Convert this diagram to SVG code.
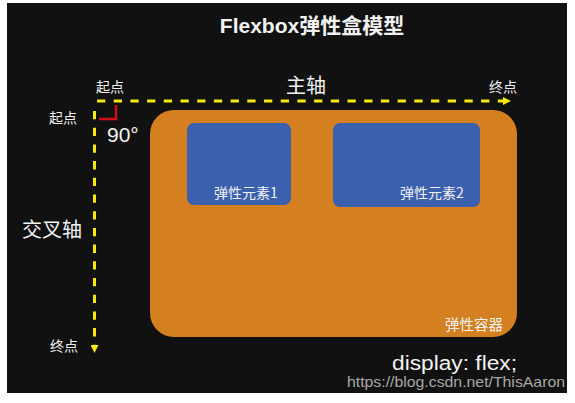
<svg xmlns="http://www.w3.org/2000/svg" width="575" height="403" viewBox="0 0 575 403">
<style>
.t{font-family:"Noto Sans CJK SC","Liberation Sans",sans-serif;fill:#f2f2f2}
.l{font-family:"Liberation Sans","Noto Sans CJK SC",sans-serif;fill:#f2f2f2}
.axis{stroke:#f5e90f;stroke-width:3;stroke-dasharray:8.3 8.4;fill:none}
.item{fill:#3b60ae}
</style>
<defs>
<marker id="ah" viewBox="0 0 8 8" refX="0" refY="4" markerWidth="8" markerHeight="8" markerUnits="userSpaceOnUse" orient="auto">
<path d="M0,0 L8,4 L0,8 Z" fill="#f5e90f"/>
</marker>
</defs>
<rect x="0" y="0" width="575" height="403" fill="#ffffff"/>
<rect x="7" y="3" width="560" height="390" fill="#111111"/>
<text class="l" x="312" y="33" font-size="21" font-weight="bold" text-anchor="middle">Flexbox<tspan class="t" font-weight="bold">弹性盒模型</tspan></text>
<g id="container">
<rect x="150" y="110" width="367" height="227" rx="24" fill="#d48020"/>
<text class="t" x="474" y="330" font-size="14.5" text-anchor="middle">弹性容器</text>
</g>
<g id="item1">
<rect class="item" x="187" y="123" width="104" height="82" rx="7"/>
<text class="t" x="246" y="198" font-size="14" text-anchor="middle">弹性元素1</text>
</g>
<g id="item2">
<rect class="item" x="333" y="123" width="147" height="84" rx="7"/>
<text class="t" x="432" y="198" font-size="14" text-anchor="middle">弹性元素2</text>
</g>
<g id="connectors">
<line class="axis" x1="97" y1="101" x2="503" y2="101" marker-end="url(#ah)"/>
<line class="axis" x1="94.5" y1="111" x2="94.5" y2="345" marker-end="url(#ah)"/>
<path d="M99,119 H116 V105" fill="none" stroke="#d0101a" stroke-width="2.5"/>
</g>
<g id="labels">
<text class="t" x="110" y="92" font-size="14" text-anchor="middle">起点</text>
<text class="t" x="306" y="93" font-size="20" text-anchor="middle">主轴</text>
<text class="t" x="503" y="92" font-size="14" text-anchor="middle">终点</text>
<text class="t" x="63" y="123" font-size="14" text-anchor="middle">起点</text>
<text class="t" x="52" y="237" font-size="20" text-anchor="middle">交叉轴</text>
<text class="t" x="64" y="351" font-size="14" text-anchor="middle">终点</text>
<text class="l" x="107" y="142" font-size="21">90°</text>
<text class="l" x="392" y="370" font-size="20" textLength="125" lengthAdjust="spacingAndGlyphs">display: flex;</text>
<text class="l" x="347" y="387" font-size="14.5" textLength="218" lengthAdjust="spacingAndGlyphs" style="fill:#a8a8a8">https://blog.csdn.net/ThisAaron</text>
</g>
</svg>
